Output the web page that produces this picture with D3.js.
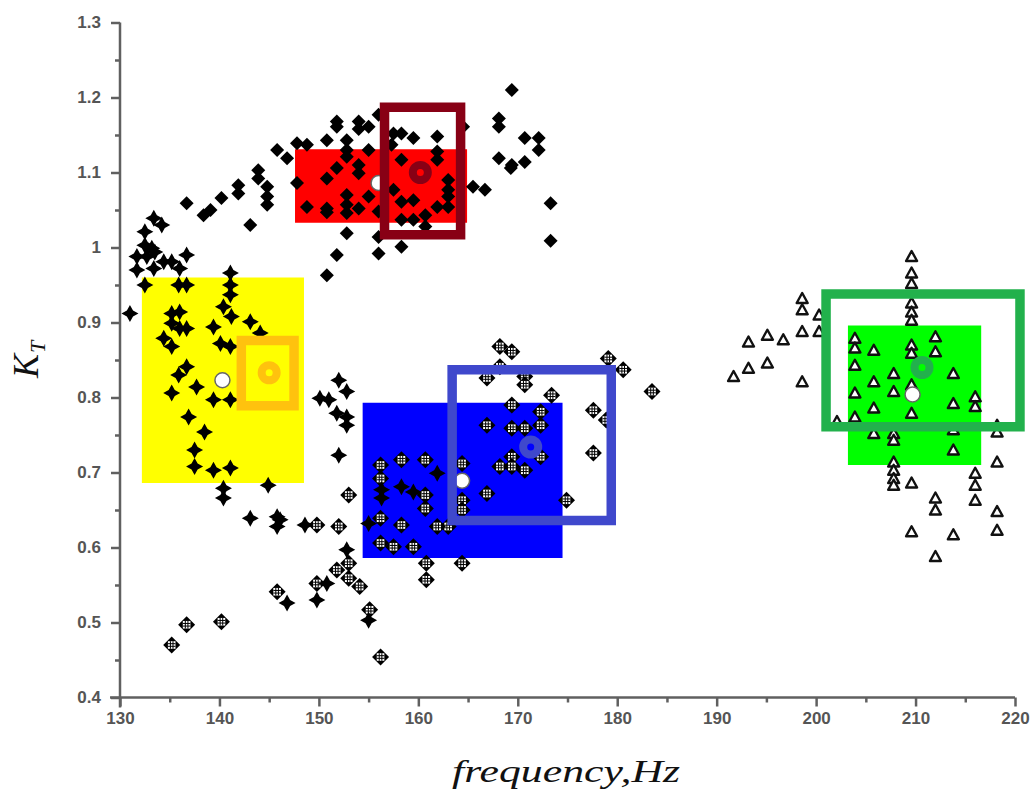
<!DOCTYPE html>
<meta charset="utf-8">
<style>
body { margin: 0; background: #fff; }
.tick text { font-family: "Liberation Sans", Arial, sans-serif; font-size: 17px; font-weight: bold; fill: #555; }
.tick line { stroke: #606060; stroke-width: 2.5; }
.title { font-family: "Liberation Serif", "DejaVu Serif", serif; font-style: italic; fill: #111; }
</style>
<body>
<script src="https://d3js.org/d3.v7.min.js"></script>
<script>

// [frequency Hz, K_T]
var solidDiamonds = [[169.4,1.210],[168.1,1.172],[168.1,1.161],[170.7,1.146],[172.1,1.146],[172.1,1.130],[168.1,1.119],[169.4,1.110],[170.7,1.114],[169.3,1.106],[173.3,1.059],[173.3,1.009],
  [151.8,1.168],[151.8,1.161],[154.0,1.168],[155.0,1.161],[154.0,1.158],[156.0,1.177],[150.8,1.143],[152.8,1.143],[152.8,1.130],[155.0,1.130],[157.5,1.152],[158.3,1.152],[159.5,1.146],[161.9,1.148],[157.3,1.137],[161.9,1.128],[161.9,1.117],[158.3,1.117],[152.8,1.121],[154.0,1.110],[154.0,1.099],[151.8,1.106],[150.8,1.092],[147.8,1.086],[155.0,1.068],[152.8,1.070],[152.8,1.057],[148.8,1.054],[150.8,1.052],[150.8,1.047],[152.8,1.046],[154.0,1.052],[156.0,1.048],[157.5,1.077],[158.3,1.061],[159.5,1.063],[158.3,1.037],[159.5,1.037],[160.7,1.043],[161.9,1.054],[163.0,1.090],[163.0,1.077],[163.0,1.068],[163.0,1.054],[160.7,1.028],[165.5,1.081],[166.7,1.077],[152.8,1.019],[156.0,1.014],[158.3,1.001],[151.8,0.990],[156.0,0.992],[150.8,0.963],
  [143.1,1.030],[136.7,1.059],[138.4,1.043],[139.1,1.050],[140.2,1.066],[141.9,1.083],[141.9,1.072],[143.9,1.103],[143.9,1.092],[144.8,1.081],[144.8,1.068],[144.8,1.057],[145.8,1.130],[146.8,1.119],[147.8,1.139],[148.8,1.137],[164.5,1.161]];

var stars = [[133.4,1.039],[134.2,1.030],[132.5,1.021],[132.5,1.003],[133.2,0.999],[131.7,0.988],[132.7,0.988],[133.5,0.994],[131.7,0.970],[133.4,0.972],[134.4,0.981],[135.2,0.981],[136.0,0.972],[136.7,0.990],[132.5,0.950],[135.9,0.950],[136.7,0.950],[141.1,0.966],[141.1,0.950],[141.1,0.937],[131.0,0.912],
  [140.4,0.921],[141.2,0.908],[143.1,0.901],[144.1,0.886],[135.2,0.912],[136.0,0.914],[135.2,0.899],[136.7,0.892],[136.0,0.892],[134.4,0.879],[135.2,0.868],[139.4,0.894],[140.1,0.872],[141.1,0.868],[136.7,0.841],[135.9,0.830],[135.2,0.806],[137.7,0.814],[139.4,0.797],[141.1,0.797],[136.9,0.774],[138.5,0.754],[137.5,0.730],[137.5,0.708],[139.4,0.703],[141.1,0.706],[140.4,0.679],[140.4,0.666],[144.9,0.683],
  [152.0,0.823],[151.0,0.797],[152.8,0.808],[151.8,0.779],[152.8,0.774],[152.8,0.763],[152.0,0.723],[150.1,0.799],[143.1,0.639],[145.8,0.641],[145.8,0.628],[148.6,0.630],[152.8,0.597],[150.8,0.552],[146.8,0.526],[149.8,0.530],[155.0,0.503],[156.3,0.677],[156.3,0.666],[158.3,0.681],[159.5,0.674],[161.9,0.699],[155.0,0.632],[146.1,0.637]];

var gridDiamonds = [[168.2,0.868],[169.4,0.861],[166.9,0.826],[168.2,0.841],[170.7,0.828],[170.7,0.817],[173.4,0.803],[179.1,0.852],[180.6,0.837],[183.5,0.808],[169.4,0.790],[172.3,0.781],[172.3,0.763],[166.9,0.763],[169.4,0.759],[170.7,0.759],[177.6,0.783],[178.9,0.770],[177.6,0.726],[169.4,0.721],[168.2,0.708],[169.4,0.708],[170.7,0.703],[172.3,0.721],[166.9,0.672],[174.9,0.663],
  [164.4,0.712],[164.4,0.663],[164.4,0.650],[163.0,0.628],[161.9,0.628],[156.2,0.710],[158.3,0.717],[160.7,0.717],[156.2,0.692],[160.7,0.670],[160.7,0.652],[156.2,0.639],[158.3,0.630],[156.2,0.606],[157.5,0.601],[159.5,0.601],[160.8,0.579],[160.8,0.557],[164.4,0.579],
  [153.0,0.670],[152.0,0.628],[153.0,0.579],[154.1,0.548],[151.8,0.570],[153.0,0.559],[155.1,0.517],[156.2,0.454],[149.8,0.630],[149.8,0.552],[145.8,0.541],[135.2,0.470],[136.7,0.497],[140.2,0.501]];

var triangles = [[209.6,0.988],[209.6,0.966],[209.6,0.952],[209.6,0.926],[209.6,0.914],[209.6,0.903],[198.6,0.932],[198.6,0.917],[200.3,0.910],[200.3,0.888],[198.6,0.888],[193.2,0.874],[195.1,0.883],[196.7,0.877],[191.7,0.828],[193.2,0.839],[195.1,0.846],[198.6,0.821],
  [203.9,0.879],[203.9,0.866],[203.9,0.843],[203.9,0.806],[203.9,0.774],[205.8,0.863],[209.6,0.870],[209.6,0.859],[212.0,0.881],[212.0,0.861],[205.8,0.821],[205.8,0.786],[205.8,0.752],[207.8,0.832],[207.8,0.808],[209.6,0.817],[209.6,0.779],[213.8,0.832],[213.8,0.792],[216.0,0.801],[216.0,0.788],[202.1,0.768],
  [207.8,0.752],[207.8,0.743],[213.8,0.757],[213.8,0.730],[218.2,0.763],[218.2,0.754],[207.8,0.714],[207.8,0.703],[207.8,0.692],[207.8,0.683],[209.6,0.686],[212.0,0.666],[212.0,0.650],[216.0,0.699],[216.0,0.683],[216.0,0.663],[218.2,0.714],[218.2,0.648],[218.2,0.623],[209.6,0.621],[213.8,0.617],[212.0,0.588]];

// cluster areas: [f0, f1, K0, K1]
var clusterAreas = [[147.6,164.9,1.033,1.131],[132.2,148.5,0.686,0.960],[154.4,174.5,0.586,0.793],[203.2,216.6,0.710,0.896]];
var modelAreas = [[156.6,164.25,1.017,1.187],[142.2,147.5,0.789,0.876],[163.4,179.4,0.636,0.837],[201.0,220.5,0.761,0.938]];
var modelCentres = [[160.2,1.100],[145.0,0.833],[171.3,0.734],[210.65,0.840]];
var clusterCentres = [[156.0,1.086],[140.3,0.823],[164.4,0.689],[209.7,0.804]];

var xTicks = [130,140,150,160,170,180,190,200,210,220];
var yTicks = [0.4,0.5,0.6,0.7,0.8,0.9,1.0,1.1,1.2,1.3];

var areaColors = ["#ff0000","#ffff00","#0000ff","#00ff00"];
var frameColors = ["#880015","#ffc20e","#3f48cc","#22b14c"];

var svg = d3.select("body").append("svg")
    .attr("width", 1031)
    .attr("height", 793);

var x = d3.scaleLinear().domain([130,220]).range([120,1015]);
var y = d3.scaleLinear().domain([0.4,1.3]).range([697.5,22.5]);

// filled cluster areas
svg.selectAll(".area")
    .data(clusterAreas)
  .enter().append("rect")
    .attr("x", function(d) { return x(d[0]); })
    .attr("width", function(d) { return x(d[1]) - x(d[0]); })
    .attr("y", function(d) { return y(d[3]); })
    .attr("height", function(d) { return y(d[2]) - y(d[3]); })
    .style("fill", function(d, i) { return areaColors[i]; });

// marker shapes
function starPath(r) {
  var a = r * 0.36;
  return "M0," + (-r) + "L" + a + "," + (-a) + "L" + r + ",0L" + a + "," + a +
         "L0," + r + "L" + (-a) + "," + a + "L" + (-r) + ",0L" + (-a) + "," + (-a) + "Z";
}
function diamondPath(r) {
  return "M0," + (-r) + "L" + r + ",0L0," + r + "L" + (-r) + ",0Z";
}

// open triangles
svg.selectAll(".tri")
    .data(triangles)
  .enter().append("path")
    .attr("transform", function(d) { return "translate(" + x(d[0]) + "," + y(d[1]) + ")"; })
    .attr("d", "M0,-5.5L5.5,4.5L-5.5,4.5Z")
    .style("fill", "#fff")
    .style("stroke", "#111")
    .style("stroke-width", 2.4)
    .style("stroke-linejoin", "round");

// hatched diamonds
var gd = svg.selectAll(".gd")
    .data(gridDiamonds)
  .enter().append("g")
    .attr("transform", function(d) { return "translate(" + x(d[0]) + "," + y(d[1]) + ")"; });
gd.append("path").attr("d", diamondPath(8.5)).style("fill", "#000");
gd.append("rect").attr("x", -3.8).attr("y", -3.8).attr("width", 7.6).attr("height", 7.6).style("fill", "#fff");
gd.append("path")
    .attr("d", "M-3.8,-1.3H3.8M-3.8,1.3H3.8M-1.3,-3.8V3.8M1.3,-3.8V3.8")
    .style("stroke", "#000").style("stroke-width", 1);

// stars
svg.selectAll(".star")
    .data(stars)
  .enter().append("path")
    .attr("transform", function(d) { return "translate(" + x(d[0]) + "," + y(d[1]) + ")"; })
    .attr("d", starPath(8.5))
    .style("fill", "#000");

// solid diamonds
svg.selectAll(".sd")
    .data(solidDiamonds)
  .enter().append("path")
    .attr("transform", function(d) { return "translate(" + x(d[0]) + "," + y(d[1]) + ")"; })
    .attr("d", diamondPath(7))
    .style("fill", "#000");

// cluster centres
svg.selectAll(".cc")
    .data(clusterCentres)
  .enter().append("circle")
    .attr("cx", function(d) { return x(d[0]); })
    .attr("cy", function(d) { return y(d[1]); })
    .attr("r", 7.5)
    .style("fill", "#fff")
    .style("stroke", "#666")
    .style("stroke-width", 1.5);

// model frames
svg.selectAll(".frame")
    .data(modelAreas)
  .enter().append("rect")
    .attr("x", function(d) { return x(d[0]); })
    .attr("width", function(d) { return x(d[1]) - x(d[0]); })
    .attr("y", function(d) { return y(d[3]); })
    .attr("height", function(d) { return y(d[2]) - y(d[3]); })
    .style("fill", "none")
    .style("stroke", function(d, i) { return frameColors[i]; })
    .style("stroke-width", 9.5);

svg.selectAll(".mc")
    .data(modelCentres)
  .enter().append("circle")
    .attr("cx", function(d) { return x(d[0]); })
    .attr("cy", function(d) { return y(d[1]); })
    .attr("r", 7.5)
    .style("fill", "none")
    .style("stroke", function(d, i) { return frameColors[i]; })
    .style("stroke-width", 8);

// axes
var axisColor = "#606060";
var gx = svg.append("g").attr("transform", "translate(0,697.5)");
gx.call(d3.axisBottom(x).tickValues(xTicks).tickSize(9).tickPadding(5).tickSizeOuter(0));
gx.append("g").call(d3.axisBottom(x).tickValues(xTicks.slice(0, -1).map(function(v) { return v + 5; })).tickSize(5).tickFormat("").tickSizeOuter(0));
gx.selectAll(".domain").remove();

var gy = svg.append("g").attr("transform", "translate(120,0)");
gy.call(d3.axisLeft(y).tickValues(yTicks).tickSize(9).tickPadding(10).tickSizeOuter(0)
    .tickFormat(function(d) { return String(+d.toFixed(1)); }));
gy.append("g").call(d3.axisLeft(y).tickValues(yTicks.slice(0, -1).map(function(v) { return v + 0.05; })).tickSize(5).tickFormat("").tickSizeOuter(0));
gy.selectAll(".domain").remove();

svg.append("line")
    .attr("x1", x(130) - 10).attr("x2", x(220))
    .attr("y1", y(0.4)).attr("y2", y(0.4))
    .style("stroke", axisColor).style("stroke-width", 2.5);
svg.append("line")
    .attr("x1", x(130)).attr("x2", x(130))
    .attr("y1", y(1.3)).attr("y2", y(0.4) + 10)
    .style("stroke", axisColor).style("stroke-width", 2.5);

// titles
svg.append("text")
    .attr("class", "title")
    .attr("x", 566)
    .attr("y", 782)
    .attr("text-anchor", "middle")
    .attr("textLength", 228)
    .attr("lengthAdjust", "spacingAndGlyphs")
    .style("font-size", "32px")
    .text("frequency,Hz");

var yt = svg.append("text")
    .attr("class", "title")
    .attr("transform", "translate(38,378) rotate(-90)")
    .style("font-size", "36px");
yt.append("tspan").text("K");
yt.append("tspan").attr("dy", 7).attr("dx", 1).style("font-size", "22px").text("T");

</script>
</body>
